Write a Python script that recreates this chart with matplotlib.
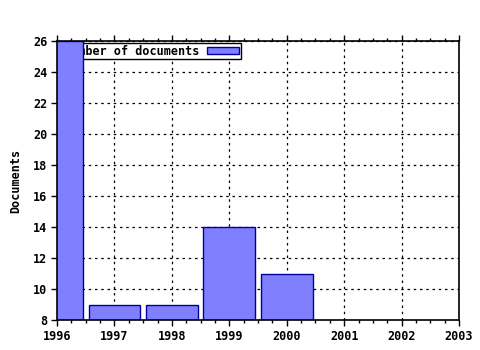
import matplotlib
matplotlib.use("Agg")
import matplotlib.pyplot as plt
from matplotlib.ticker import MultipleLocator

years = [1996, 1997, 1998, 1999, 2000]
documents = [26, 9, 9, 14, 11]
series_label = "Number of documents"
y_label = "Documents"

FONT = "DejaVu Sans Mono"
plt.rcParams['font.family'] = [FONT]
plt.rcParams['font.weight'] = 'bold'

fig = plt.figure(figsize=(4.8, 3.5), dpi=100)
ax = fig.add_axes([57/480, 30/350, (459-57)/480, (320-41)/350])

bars = ax.bar(years, documents, width=0.9, color="#8080ff", edgecolor="#0000a0",
              linewidth=1, zorder=2, label=series_label, bottom=0)

ax.set_xlim(1996, 2003)
ax.set_ylim(8, 26)
ax.xaxis.set_major_locator(MultipleLocator(1))
ax.xaxis.set_minor_locator(MultipleLocator(0.25))
ax.yaxis.set_major_locator(MultipleLocator(2))

ax.grid(True, which='major', color='black', linestyle=(0, (2, 3)), linewidth=0.9, zorder=0.5)
ax.set_axisbelow(True)

ax.tick_params(axis='x', which='both', direction='out', top=True, bottom=True,
               labelsize=8.5, pad=3)
ax.tick_params(axis='x', which='major', length=4, width=1)
ax.tick_params(axis='x', which='minor', length=2.5, width=1)
ax.tick_params(axis='y', which='major', direction='out', left=True, right=False,
               length=4, width=1, labelsize=8.5, pad=3)
for lab in ax.get_xticklabels() + ax.get_yticklabels():
    lab.set_fontweight('bold')

for s in ax.spines.values():
    s.set_linewidth(1.2)
    s.set_color('black')

ax.set_ylabel(y_label, fontsize=8.5, fontweight='bold', labelpad=8)

leg = ax.legend(loc='upper left', bbox_to_anchor=(0.012, 0.993), borderaxespad=0,
                borderpad=0.15, handlelength=2.7, handleheight=0.6, handletextpad=0.7,
                markerfirst=False, fancybox=False, framealpha=1, edgecolor='black',
                prop={'family': FONT, 'weight': 'bold', 'size': 8.5})
leg.get_frame().set_linewidth(1)
leg.set_zorder(1)

fig.savefig("out.png", dpi=100)
